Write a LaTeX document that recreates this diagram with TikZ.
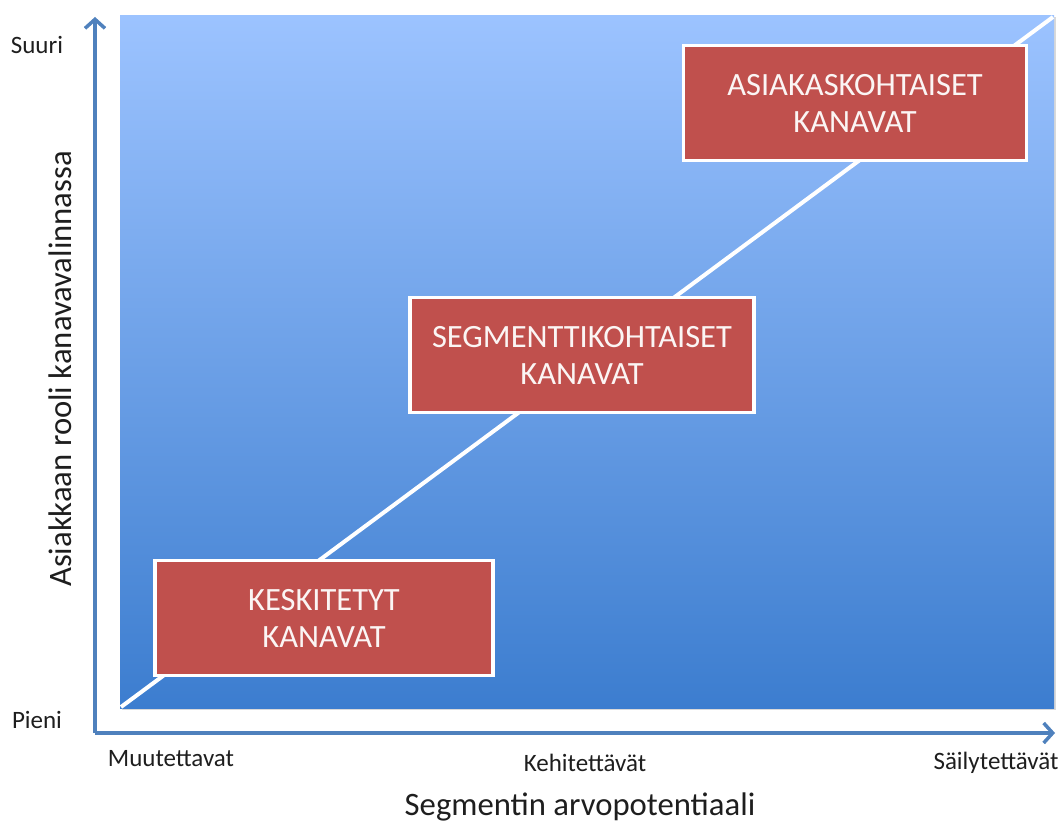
\documentclass[tikz,border=0pt]{standalone}
\usepackage{fontspec}
\setmainfont{Carlito}
\usetikzlibrary{arrows.meta,shadows}
\definecolor{bgtop}{RGB}{156,195,255}
\definecolor{bgbot}{RGB}{60,125,207}
\definecolor{boxred}{RGB}{192,80,77}
\definecolor{axisblue}{RGB}{79,129,189}
\definecolor{txt}{RGB}{30,30,30}
\tikzset{
  chanbox/.style={draw=white, line width=3.5pt, fill=boxred, minimum width=338pt, minimum height=115pt,
    align=center, text=white!94!boxred, font=\fontsize{32.5}{37}\selectfont,
    drop shadow={shadow xshift=1.5pt, shadow yshift=-1.5pt, opacity=0.35}},
  axisline/.style={draw=axisblue, line width=3.5pt, -{Straight Barb[length=9pt,width=20pt,line width=3.5pt]}},
  ticklabel/.style={text=txt, font=\fontsize{25}{28}\selectfont},
  axistitle/.style={text=txt, font=\fontsize{32.7}{36}\selectfont},
}
\begin{document}
\begin{tikzpicture}[x=1pt,y=-1pt]
\useasboundingbox (0,0) rectangle (1062,824);
% background plot area
\shade[top color=bgtop, bottom color=bgbot, drop shadow={shadow xshift=1.5pt, shadow yshift=-1.5pt, opacity=0.3}] (120,16) rectangle (1054,708);
% diagonal
\coordinate (bl) at (121,707);
\coordinate (tr) at (1053,17);
\draw[white, line width=4pt] (bl) -- (tr);
% axes
\coordinate (origin) at (95,733);
\coordinate (ytop) at (95,17);
\coordinate (xend) at (1055,733);
\draw[axisline] (origin) -- (ytop);
\draw[axisline] (origin) -- (xend);
% boxes
\node[chanbox] (b1) at (324,618) {KESKITETYT\\ KANAVAT};
\node[chanbox, minimum width=344pt] (b2) at (582,355) {SEGMENTTIKOHTAISET\\ KANAVAT};
\node[chanbox, minimum width=343pt] (b3) at (855,103) {ASIAKASKOHTAISET\\ KANAVAT};
% tick labels
\node[ticklabel] (suuri) at (37,45) {Suuri};
\node[ticklabel] (pieni) at (37,720) {Pieni};
\node[ticklabel] (muu) at (171,759) {Muutettavat};
\node[ticklabel] (keh) at (585,763) {Kehitettävät};
\node[ticklabel] (sail) at (996,763) {Säilytettävät};
% titles
\node[axistitle] (xt) at (580,807) {Segmentin arvopotentiaali};
\node[axistitle, rotate=90] (yt) at (60,369) {Asiakkaan rooli kanavavalinnassa};
\end{tikzpicture}
\end{document}
